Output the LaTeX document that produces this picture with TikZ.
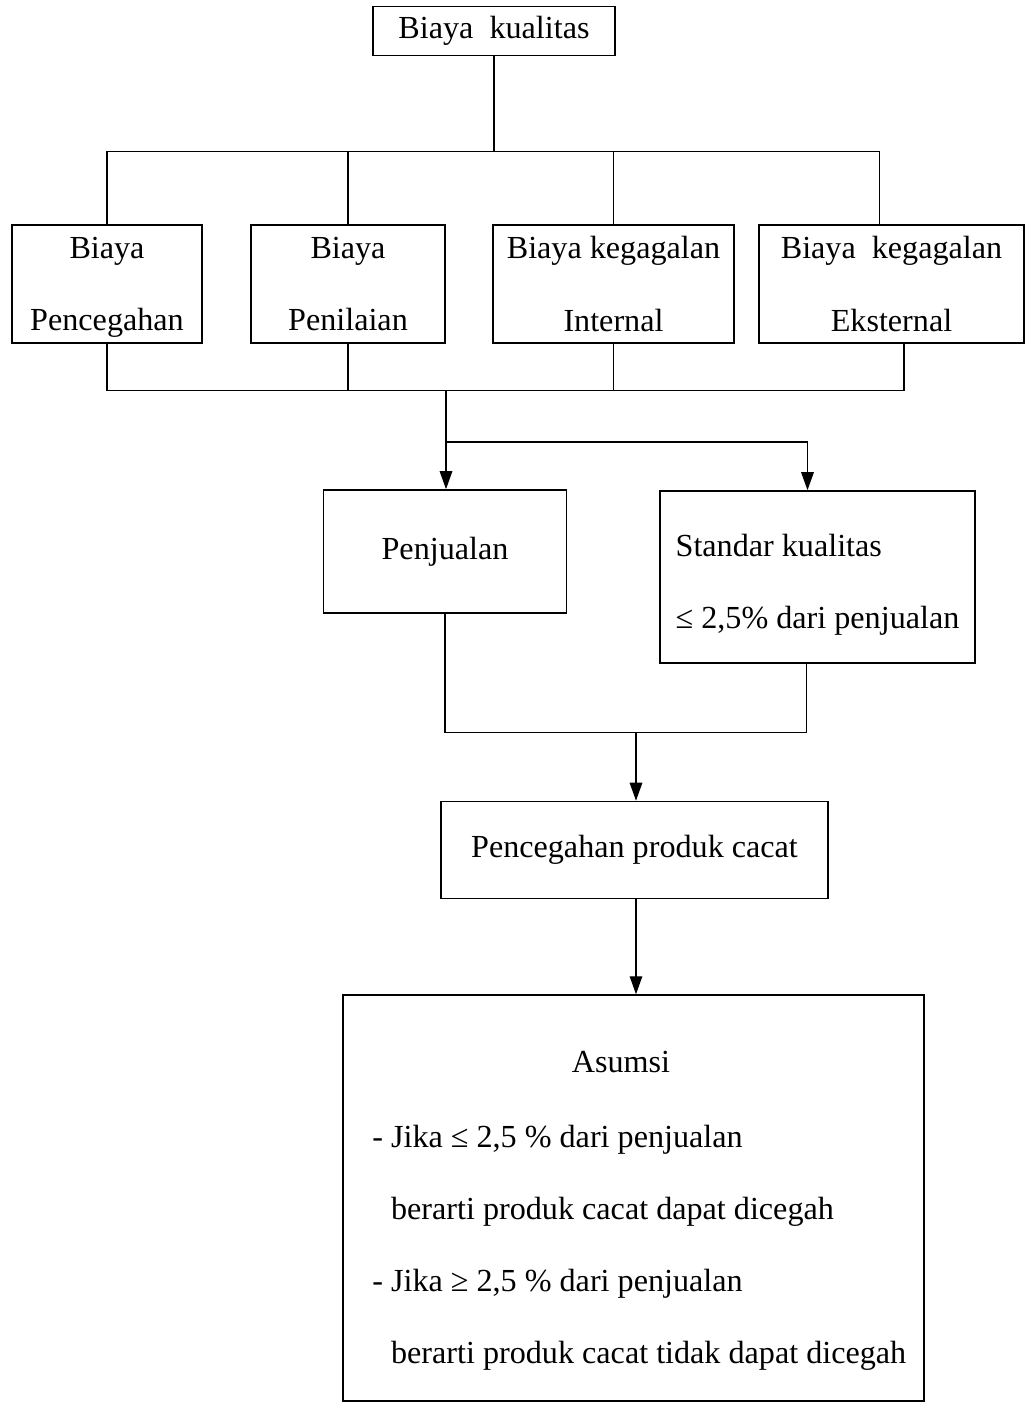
\documentclass[tikz,border=0pt]{standalone}
\usepackage{fontspec}
\setmainfont{Liberation Serif}
\usetikzlibrary{arrows.meta,calc}

\tikzset{
  kotak/.style={draw, line width=0.9pt, inner sep=0pt, align=center},
  garis/.style={line width=0.8pt},
  panah/.style={garis, -{Triangle[length=0.36cm,width=0.25cm]}},
}

\begin{document}
\begin{tikzpicture}[x=0.02cm, y=-0.02cm, font=\fontsize{18.3}{41}\selectfont]
\useasboundingbox (0,0) rectangle (1029,1404);

\node[kotak, minimum width=4.84cm, minimum height=0.98cm] (kualitas) at (494,31) {Biaya\ \ kualitas}; % puncak
\node[kotak, minimum width=3.8cm, minimum height=2.36cm] (pencegahan) at (107,284) {\rule{0pt}{16pt}Biaya\\Pencegahan};
\node[kotak, minimum width=3.88cm, minimum height=2.36cm] (penilaian) at (348,284) {Biaya\\Penilaian};
\node[kotak, minimum width=4.82cm, minimum height=2.36cm] (internal) at (613.5,284) {Biaya kegagalan\\Internal};
\node[kotak, minimum width=5.3cm, minimum height=2.36cm] (eksternal) at (891.5,284) {Biaya\ \ kegagalan\\Eksternal};
\node[kotak, minimum width=4.86cm, minimum height=2.46cm] (penjualan) at (445,551.5) {Penjualan};
\node[kotak, minimum width=6.3cm, minimum height=3.44cm, align=left] (standar) at (817.5,577) {\rule{0pt}{22pt}Standar kualitas\\≤ 2,5\% dari penjualan};
\node[kotak, minimum width=7.74cm, minimum height=1.94cm] (produk) at (634.5,850) {Pencegahan produk cacat};
\node[kotak, minimum width=11.62cm, minimum height=8.12cm] (asumsi) at (633.5,1198) {}; % kotak asumsi
\node (judul) at (621,1062) {Asumsi};
\node[anchor=west, inner sep=0pt, align=left] (syarat) at (372,1248) {- Jika ≤ 2,5 \% dari penjualan\\
  \hphantom{-\ }berarti produk cacat dapat dicegah\\
  - Jika ≥ 2,5 \% dari penjualan\\
  \hphantom{-\ }berarti produk cacat tidak dapat dicegah};

% cabang atas
\coordinate (atas) at (494,152);
\draw[garis] (kualitas.south) -- (kualitas.south |- atas);
\draw[garis] (pencegahan.north) |- ($(eksternal.north)+(-12,-73)$) -- ($(eksternal.north)+(-12,0)$);
\draw[garis] (penilaian.north) -- (penilaian.north |- atas);
\draw[garis] (internal.north) -- (internal.north |- atas);

% cabang bawah
\coordinate (bawah) at (446,390);
\coordinate (cabang) at (446,442);
\draw[garis] (pencegahan.south) |- ($(eksternal.south)+(12.5,47)$) -- ($(eksternal.south)+(12.5,0)$);
\draw[garis] (penilaian.south) -- (penilaian.south |- bawah);
\draw[garis] (internal.south) -- (internal.south |- bawah);
\draw[garis] (bawah) -- (cabang);
\draw[panah] (cabang) -- (cabang |- penjualan.north);
\draw[panah] (cabang) -| ($(standar.north)+(-10,0)$);

% gabung
\coordinate (gabung) at (636,732);
\draw[garis] (penjualan.south) |- ($(standar.south)+(-11,69)$) -- ($(standar.south)+(-11,0)$);
\draw[panah] (gabung) -- (gabung |- produk.north);
\draw[panah] (produk.south -| gabung) -- (asumsi.north -| gabung);
\end{tikzpicture}
\end{document}
